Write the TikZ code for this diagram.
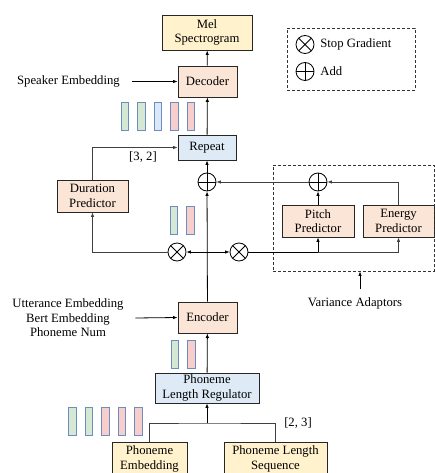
\documentclass[tikz,border=0pt]{standalone}
\usepackage{fontspec}
\setmainfont{Liberation Serif}
\usetikzlibrary{arrows.meta}

\definecolor{melyellow}{HTML}{FFF2CC}
\definecolor{modorange}{HTML}{FBE5D6}
\definecolor{modblue}{HTML}{DEEBF7}
\definecolor{bargreen}{HTML}{D5E8D4}
\definecolor{barpink}{HTML}{F8CECC}
\definecolor{barblue}{HTML}{DAE8FC}
\definecolor{baredge}{HTML}{6C8EBF}

\tikzset{
    module/.style={draw=black!85, line width=0.8pt, align=center, inner sep=0pt},
    bar/.style={draw=baredge, line width=0.8pt, minimum width=7.5pt, minimum height=28pt, inner sep=0pt},
    stopgrad/.style={circle, draw, line width=0.8pt, minimum size=18pt, inner sep=0pt,
        path picture={\draw (path picture bounding box.north west) -- (path picture bounding box.south east)
                            (path picture bounding box.north east) -- (path picture bounding box.south west);}},
    addop/.style={circle, draw, line width=0.8pt, minimum size=18pt, inner sep=0pt,
        path picture={\draw (path picture bounding box.north) -- (path picture bounding box.south)
                            (path picture bounding box.west) -- (path picture bounding box.east);}},
    dashbox/.style={draw=black!80, line width=0.8pt, dash pattern=on 3pt off 2pt, inner sep=0pt},
}

\begin{document}
\begin{tikzpicture}[x=1pt, y=-1pt, line width=0.8pt, >={Latex[length=4.5pt,width=3.5pt]},
    font=\fontsize{12.7}{14.5}\selectfont]
    \useasboundingbox (0,0) rectangle (435,473);

    % modules on the main path
    \node[module, fill=melyellow, minimum width=90pt, minimum height=35pt] (mel) at (207,32.5) {Mel\\Spectrogram};
    \node[module, fill=modorange, minimum width=59pt, minimum height=31pt] (decoder) at (207.5,81.5) {Decoder};
    \node[module, fill=modblue, minimum width=58pt, minimum height=25pt] (repeat) at (207,147.5) {Repeat};
    \node[module, fill=modorange, minimum width=71pt, minimum height=32pt] (duration) at (92.5,196) {Duration\\Predictor};
    \node[module, fill=modorange, minimum width=72pt, minimum height=32pt] (pitch) at (318,221) {Pitch\\Predictor};
    \node[module, fill=modorange, minimum width=71pt, minimum height=32pt] (energy) at (398.5,221) {Energy\\Predictor};
    \node[module, fill=modorange, minimum width=59pt, minimum height=31pt] (encoder) at (207.5,317.5) {Encoder};
    \node[module, fill=modblue, minimum width=104pt, minimum height=30pt] (regulator) at (207,388) {Phoneme\\Length Regulator};
    \node[module, fill=melyellow, minimum width=75pt, minimum height=34pt] (phemb) at (149.5,459) {Phoneme\\Embedding};
    \node[module, fill=melyellow, minimum width=103pt, minimum height=34pt] (phlen) at (275.5,459) {Phoneme Length\\Sequence};

    % operators
    \node[addop] (addmain) at (207,182) {};
    \node[addop] (addvar) at (318,182) {};
    \node[stopgrad] (sgleft) at (177,252) {};
    \node[stopgrad] (sgright) at (239,252) {};

    % variance adaptor frame and legend
    \node[dashbox, minimum width=161pt, minimum height=106pt] (adaptor) at (353.5,218) {};
    \node[dashbox, minimum width=128pt, minimum height=62pt] (legend) at (351,59) {};
    \node[stopgrad] (legsg) at (305,44.5) {};
    \node[addop] (legadd) at (305,71.5) {};
    \node[anchor=west, inner sep=0pt] (legsgtext) at (320,44.5) {Stop Gradient};
    \node[anchor=west, inner sep=0pt] (legaddtext) at (320,71.5) {Add};

    % hidden sequences
    \foreach \x/\c [count=\i] in {125/bargreen, 141.5/bargreen, 158/barblue, 174.5/barpink, 191/barpink}
        \node[bar, fill=\c] (seqrep\i) at (\x,116.5) {};
    \foreach \x/\c [count=\i] in {174/bargreen, 190.5/barpink}
        \node[bar, fill=\c] (seqvar\i) at (\x,220.5) {};
    \foreach \x/\c [count=\i] in {175/bargreen, 191.5/barpink}
        \node[bar, fill=\c] (seqenc\i) at (\x,354.5) {};
    \foreach \x/\c [count=\i] in {72.5/bargreen, 89/bargreen, 105.5/barpink, 122/barpink, 138.5/barpink}
        \node[bar, fill=\c] (seqph\i) at (\x,421.5) {};

    % labels
    \node (speaker) at (68.5,81.5) {Speaker Embedding};
    \node[align=center] (cond) at (68,318) {Utterance Embedding\\Bert Embedding\\Phoneme Num};
    \node (varlabel) at (355,303) {Variance Adaptors};
    \node (durlabel) at (143,157) {[3, 2]};
    \node (lenlabel) at (298,423) {[2, 3]};

    \coordinate (split) at (207,252);
    \coordinate (tree) at (207,423);
    \coordinate (vatail) at (360,289);

    % main path
    \draw[->] (decoder) -- (mel);
    \draw[->] (repeat) -- (decoder);
    \draw[->] (addmain) -- (repeat);
    \draw[->] (encoder) -- (addmain);
    \draw[->] (regulator) -- (encoder);
    \draw[->] (tree) -- (regulator);
    \draw[black!75] (phemb.north) |- (tree) -| (phlen.north);

    % duration branch
    \draw[->] (split) -- (sgleft);
    \draw[->, black!75] (sgleft.west) -| (duration.south);
    \draw[->, black!75] (duration.north) |- (repeat.west);

    % pitch and energy branch
    \draw[->] (split) -- (sgright);
    \draw[->] (sgright.east) -| (pitch.south);
    \draw[->, black!75] (pitch.south |- sgright) -| (energy.south);
    \draw[->] (pitch) -- (addvar);
    \draw[->, black!75] (energy.north) |- (addvar.east);
    \draw[->, black!75] (addvar) -- (addmain);

    % side inputs
    \draw[->] ([xshift=8pt]speaker.east) -- (decoder.west);
    \draw[->] ([xshift=8pt]cond.east) -- (encoder.west);
    \draw[->] (vatail) -- (vatail |- adaptor.south);
\end{tikzpicture}
\end{document}
